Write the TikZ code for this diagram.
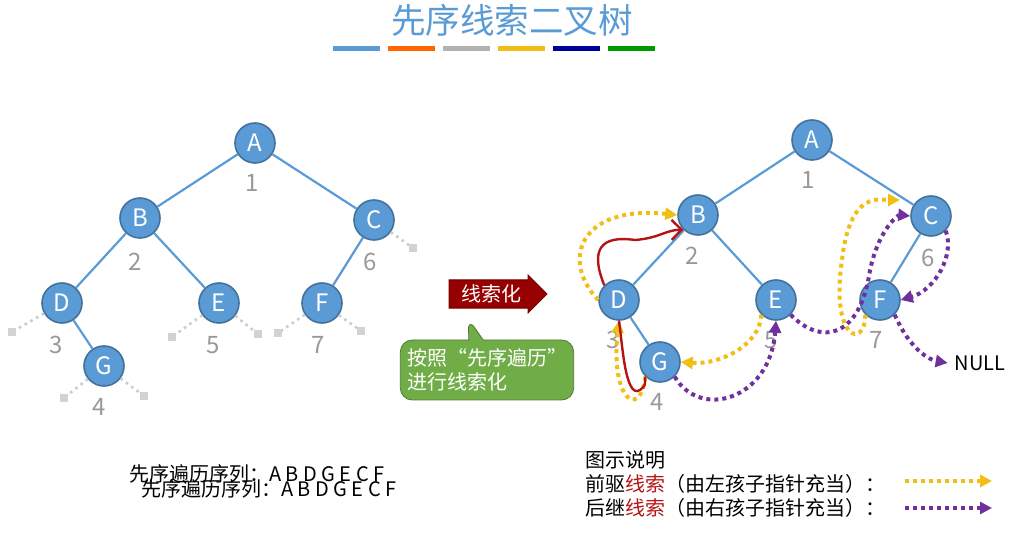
\documentclass[tikz,border=0pt]{standalone}
\usepackage{fontspec}
\setmainfont{Noto Sans CJK SC}
\usetikzlibrary{shapes.arrows,shapes.callouts,arrows.meta}
\definecolor{nodeblue}{RGB}{91,155,213}
\definecolor{nodeedge}{RGB}{65,113,156}
\definecolor{predcol}{RGB}{240,190,20}
\definecolor{succcol}{RGB}{112,48,160}
\definecolor{handred}{RGB}{180,20,20}
\definecolor{darkred}{RGB}{150,0,0}
\definecolor{boxgreen}{RGB}{112,173,71}
\tikzset{
	tnode/.style={circle,fill=nodeblue,draw=nodeedge,thick,minimum size=20pt,inner sep=0pt,text=white,font=\large},
	tedge/.style={draw=nodeblue,line width=1.1pt},
	idx/.style={text=gray!80,font=\large},
	stub/.style={draw=gray!40,dotted,line width=1.3pt},
	pred/.style={draw=predcol,dotted,line width=2pt,-{Triangle[length=6pt,width=6pt]}},
	succ/.style={draw=succcol,dotted,line width=2pt,-{Triangle[length=6pt,width=6pt]}},
	hand/.style={draw=handred,line width=1.2pt,-{Straight Barb[length=5pt]}}
}
\begin{document}
\begin{tikzpicture}[x=0.5pt,y=-0.5pt]
\useasboundingbox (0,0) rectangle (1024,545);
% title
\node[text=nodeblue,font=\LARGE] (title) at (512,20) {先序线索二叉树};
\foreach \c [count=\i] in {nodeblue,orange!80!red,gray!60,predcol,blue!60!black,green!60!black}
	\fill[\c] ({333+(\i-1)*55},46) rectangle ({380+(\i-1)*55},51);

% left tree
\node[tnode] (lA) at (255,143) {A};
\node[tnode] (lB) at (140,218) {B};
\node[tnode] (lC) at (374,220) {C};
\node[tnode] (lD) at (62,303) {D};
\node[tnode] (lE) at (219,303) {E};
\node[tnode] (lF) at (322,303) {F};
\node[tnode] (lG) at (104,366) {G};
\foreach \a/\b in {A/B,A/C,B/D,B/E,C/F,D/G}
	\draw[tedge] (l\a) -- (l\b);
\foreach \n/\x/\y in {lC/413/248,lD/12/332,lE/172/337,lE/258/334,lF/278/333,lF/361/331,lG/64/398,lG/144/396} {
	\coordinate (s) at (\x,\y);
	\draw[stub] (\n) -- (s);
	\fill[gray!35] (\x-4,\y-4) rectangle (\x+4,\y+4);
}
\node[idx] at (252,183) {1};
\node[idx] at (135,262) {2};
\node[idx] at (56,345) {3};
\node[idx] at (99,407) {4};
\node[idx] at (213,345) {5};
\node[idx] at (370,262) {6};
\node[idx] at (318,345) {7};

% middle
\node[single arrow,fill=darkred,draw=darkred!70!black,text=white,minimum height=49pt,minimum width=19pt,single arrow head extend=2pt,inner sep=1pt] (arr) at (491,294) {线索化\hspace{6pt}};
\node[rectangle callout,rounded corners=6pt,fill=boxgreen,draw=boxgreen!70!black,text=white,align=left,minimum width=86pt,minimum height=30pt,callout absolute pointer={(468,318)}] (note) at (487,370) {按照“先序遍历”\\进行线索化};

% right tree
\node[tnode] (rA) at (812,140) {A};
\node[tnode] (rB) at (698,215) {B};
\node[tnode] (rC) at (931,216) {C};
\node[tnode] (rD) at (619,300) {D};
\node[tnode] (rE) at (776,300) {E};
\node[tnode] (rF) at (880,300) {F};
\node[tnode] (rG) at (660,362) {G};
\foreach \a/\b in {A/B,A/C,B/D,B/E,C/F,D/G}
	\draw[tedge] (r\a) -- (r\b);
\node[idx] at (808,180) {1};
\node[idx] at (692,256) {2};
\node[idx] at (613,340) {3};
\node[idx] at (657,402) {4};
\node[idx] at (771,340) {5};
\node[idx] at (928,258) {6};
\node[idx] at (876,340) {7};
\node (null) at (980,363) {NULL};

\draw[pred] (rD.west) .. controls (560,260) and (580,205) .. (rB.west);
\draw[pred] (rG.south west) .. controls (640,420) and (610,400) .. (rD.south);
\draw[pred] (rE.south west) .. controls (760,345) and (720,365) .. (rG.east);
\draw[pred] (rF.south west) .. controls (865,350) and (830,340) .. (842,260) .. controls (850,190) and (880,200) .. (900,200);
\draw[succ] (rG.south east) .. controls (700,420) and (770,400) .. (rE.south);
\draw[succ] (rE.south east) .. controls (820,345) and (860,340) .. (870,270) .. controls (880,225) and (900,215) .. (rC.west);
\draw[succ] (rC.south east) .. controls (955,255) and (935,290) .. (rF.east);
\draw[succ] (rF.south east) .. controls (910,350) and (930,360) .. (null.west);
\draw[hand] (rD.north west) .. controls (590,250) and (600,235) .. (635,240) .. controls (660,238) and (665,230) .. (rB.south west);
\draw[draw=handred,line width=1.2pt] (rD.south) .. controls (622,340) and (625,400) .. (640,390) .. controls (645,386) .. (rG.south west);

% sequence text
\node[anchor=west] (seq1) at (122,474) {先序遍历序列：A B D G E C F};
\node[anchor=west] (seq2) at (134,489) {先序遍历序列：A B D G E C F};

% legend
\node[anchor=west] (lg0) at (578,460) {图示说明};
\node[anchor=west] (lg1) at (578,484) {前驱\textcolor{handred}{线索}（由左孩子指针充当）：};
\node[anchor=west] (lg2) at (578,508) {后继\textcolor{handred}{线索}（由右孩子指针充当）：};
\coordinate (p1) at (905,481);
\coordinate (p2) at (992,481);
\coordinate (q1) at (905,508);
\coordinate (q2) at (992,508);
\draw[pred] (p1) -- (p2);
\draw[succ] (q1) -- (q2);
\end{tikzpicture}
\end{document}
